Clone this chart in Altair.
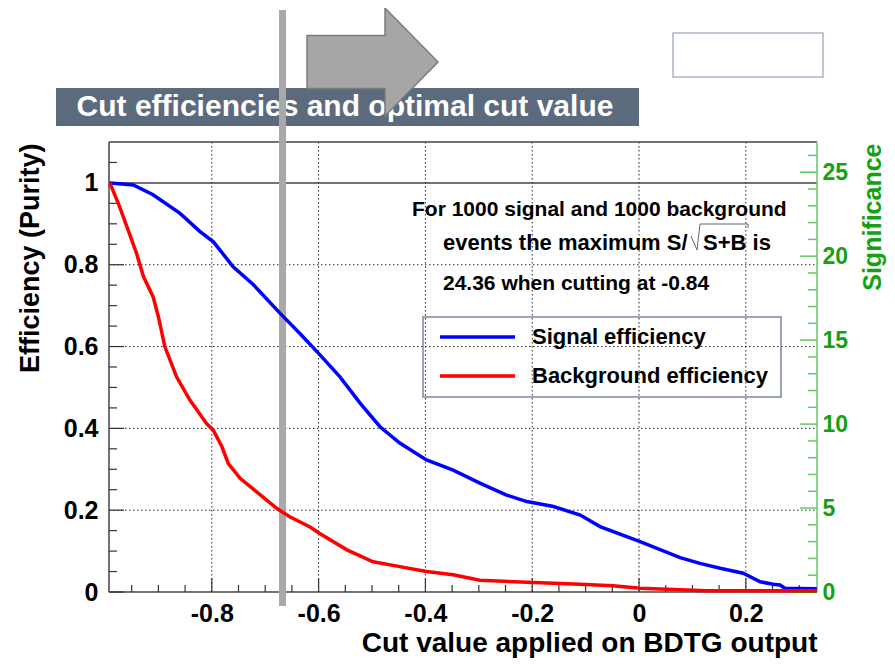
import altair as alt
import pandas as pd

# ---------------- data ----------------
series_names = ["Signal efficiency", "Background efficiency"]
series_colors = ["#0000ff", "#ff0000"]

signal_x = [-0.991, -0.947, -0.910, -0.860, -0.822, -0.797, -0.760, -0.722, -0.672, -0.635,
            -0.597, -0.560, -0.522, -0.485, -0.448, -0.398, -0.348, -0.298, -0.248, -0.210,
            -0.160, -0.110, -0.073, 0.002, 0.077, 0.114, 0.152, 0.195, 0.227, 0.251,
            0.264, 0.273, 0.333]
signal_y = [1.0, 0.995, 0.971, 0.926, 0.881, 0.856, 0.795, 0.751, 0.681, 0.632,
            0.579, 0.526, 0.461, 0.404, 0.364, 0.323, 0.298, 0.266, 0.237, 0.221,
            0.209, 0.188, 0.160, 0.123, 0.084, 0.070, 0.058, 0.046, 0.025, 0.019,
            0.017, 0.009, 0.008]

background_x = [-0.991, -0.975, -0.959, -0.941, -0.928, -0.910, -0.900, -0.888, -0.866, -0.841,
                -0.810, -0.797, -0.781, -0.769, -0.747, -0.716, -0.678, -0.654, -0.616, -0.598,
                -0.547, -0.498, -0.448, -0.398, -0.348, -0.298, -0.198, -0.110, -0.049, 0.002,
                0.127, 0.333]
background_y = [1.0, 0.95, 0.893, 0.828, 0.771, 0.722, 0.673, 0.600, 0.526, 0.469,
                0.412, 0.395, 0.355, 0.314, 0.278, 0.245, 0.204, 0.184, 0.159, 0.143,
                0.103, 0.074, 0.062, 0.050, 0.042, 0.029, 0.023, 0.019, 0.015, 0.009,
                0.003, 0.003]

significance_x = [0.29, 0.333]
significance_y = [0.0, 0.0]

x_major = [-0.8, -0.6, -0.4, -0.2, 0.0, 0.2]
x_minor = [-0.95, -0.9, -0.85, -0.75, -0.7, -0.65, -0.55, -0.5, -0.45, -0.35, -0.3, -0.25,
           -0.15, -0.1, -0.05, 0.05, 0.1, 0.15, 0.25, 0.3]
y_major = [0.0, 0.2, 0.4, 0.6, 0.8, 1.0]
y_grid = [0.2, 0.4, 0.6, 0.8]
y_minor = [0.05, 0.1, 0.15, 0.25, 0.3, 0.35, 0.45, 0.5, 0.55, 0.65, 0.7, 0.75, 0.85, 0.9,
           0.95, 1.05]
y_solid = [0.0, 1.0, 1.1]
sig_major = [0, 5, 10, 15, 20, 25]
sig_minor = [1, 2, 3, 4, 6, 7, 8, 9, 11, 12, 13, 14, 16, 17, 18, 19, 21, 22, 23, 24, 26]

title_text = "Cut efficiencies and optimal cut value"
x_title = "Cut value applied on BDTG output"
y_title = "Efficiency (Purity)"
sig_title = "Significance"
note_line1 = "For 1000 signal and 1000 background"
note_line2a = "events the maximum S/"
note_line2b = "S+B is"
note_line3 = "24.36 when cutting at -0.84"

X_DOMAIN = [-0.9925, 0.3333]
Y_DOMAIN = [0.0, 1.1]
SIG_DOMAIN = [0.0, 26.8]

W, H = 708, 450
FONT = "Liberation Sans"
GREEN = "#12a212"
GREEN_LINE = "#66c866"

# ---------------- helpers ----------------
def xs():
    return alt.Scale(domain=X_DOMAIN, nice=False, zero=False)

def ys():
    return alt.Scale(domain=Y_DOMAIN, nice=False, zero=False)

def ss():
    return alt.Scale(domain=SIG_DOMAIN, nice=False, zero=False)

one = alt.Data(values=[{"a": 1}])

def vals(v):
    return pd.DataFrame({"v": v})

curves = pd.concat([
    pd.DataFrame({"series": series_names[0], "x": signal_x, "y": signal_y, "i": range(len(signal_x))}),
    pd.DataFrame({"series": series_names[1], "x": background_x, "y": background_y, "i": range(len(background_x))}),
])
sig_df = pd.DataFrame({"x": significance_x, "y": significance_y})

# ---------------- decorations above the plot ----------------
title_bar = alt.Chart(one).mark_rect(color="#5c6a7e").encode(
    x=alt.value(-53), x2=alt.value(530), y=alt.value(-54), y2=alt.value(-16))
title_lbl = alt.Chart(one).mark_text(
    text=title_text, font=FONT, fontSize=30, fontWeight="bold", color="white",
    align="center", baseline="middle").encode(x=alt.value(236), y=alt.value(-35))
arrow_path = ("M -1 -0.405 L 0.191 -0.405 L 0.191 -0.824 L 1 0 L 0.191 0.824 "
              "L 0.191 0.405 L -1 0.405 Z")
arrow = alt.Chart(one).mark_point(
    shape=arrow_path, size=17161, filled=True, fill="#a6a6a6", stroke="#7c7c7c",
    strokeWidth=1.5, opacity=1).encode(x=alt.value(263.5), y=alt.value(-80))
top_box = alt.Chart(one).mark_rect(fill="white", stroke="#a9b4c7", strokeWidth=1.5).encode(
    x=alt.value(564), x2=alt.value(714), y=alt.value(-109), y2=alt.value(-65))
grey_bar = alt.Chart(one).mark_rect(color="#a9a9a9").encode(
    x=alt.value(170), x2=alt.value(177), y=alt.value(-132), y2=alt.value(464))

# ---------------- x axis carrier (labels + title) ----------------
x_axis_layer = alt.Chart(vals(x_major)).mark_rule(opacity=0).encode(
    x=alt.X("v:Q", scale=xs(), axis=alt.Axis(
        orient="bottom", values=x_major, labelExpr="'' + datum.value", ticks=False,
        tickSize=0, domain=False, grid=False, labelFont=FONT, labelFontSize=25,
        labelFontWeight="bold", labelColor="black", labelPadding=9, labelOverlap=False,
        labelFlush=False, title=x_title, titleFont=FONT, titleFontSize=28,
        titleFontWeight="bold", titleColor="black", titleAlign="right",
        titleBaseline="alphabetic", titleX=W, titleY=59)),
    y=alt.value(0), y2=alt.value(1))

# ---------------- frame, grid, ticks ----------------
dots = dict(strokeDash=[1.5, 2.5], color="#222222", strokeWidth=1)
grid_v = alt.Chart(vals(x_major)).mark_rule(**dots).encode(
    x=alt.X("v:Q", scale=xs(), axis=None), y=alt.value(0), y2=alt.value(H))
grid_h = alt.Chart(vals(y_grid)).mark_rule(**dots).encode(
    y=alt.Y("v:Q", scale=ys(), axis=None), x=alt.value(0), x2=alt.value(W))
solid_h = alt.Chart(vals(y_solid)).mark_rule(color="#444444", strokeWidth=1.5).encode(
    y=alt.Y("v:Q", scale=ys(), axis=None), x=alt.value(0), x2=alt.value(W))
left_line = alt.Chart(one).mark_rule(color="#444444", strokeWidth=1.5).encode(
    x=alt.value(0), y=alt.value(0), y2=alt.value(H))
xt_major = alt.Chart(vals(x_major)).mark_rule(color="#333333", strokeWidth=1.2).encode(
    x=alt.X("v:Q", scale=xs(), axis=None), y=alt.value(H), y2=alt.value(H - 14))
xt_minor = alt.Chart(vals(x_minor)).mark_rule(color="#333333", strokeWidth=1.2).encode(
    x=alt.X("v:Q", scale=xs(), axis=None), y=alt.value(H), y2=alt.value(H - 7))
yt_major = alt.Chart(vals(y_major)).mark_rule(color="#333333", strokeWidth=1.2).encode(
    y=alt.Y("v:Q", scale=ys(), axis=None), x=alt.value(0), x2=alt.value(15))
yt_minor = alt.Chart(vals(y_minor)).mark_rule(color="#333333", strokeWidth=1.2).encode(
    y=alt.Y("v:Q", scale=ys(), axis=None), x=alt.value(0), x2=alt.value(8))

# ---------------- right (significance) axis ----------------
right_line = alt.Chart(one).mark_rule(color=GREEN_LINE, strokeWidth=1.5).encode(
    x=alt.value(W), y=alt.value(0), y2=alt.value(H))
st_major = alt.Chart(vals(sig_major)).mark_rule(color=GREEN_LINE, strokeWidth=1.5).encode(
    y=alt.Y("v:Q", scale=ss(), axis=alt.Axis(
        orient="right", values=sig_major, labelExpr="'' + datum.value",
        ticks=False, tickSize=0, domain=False, grid=False,
        labelFont=FONT, labelFontSize=23, labelFontWeight="bold", labelColor=GREEN,
        labelPadding=5, labelOverlap=False, labelFlush=False,
        title=sig_title, titleFont=FONT, titleFontSize=25, titleFontWeight="bold",
        titleColor=GREEN, titleAngle=270, titleAlign="right", titleBaseline="middle",
        titleX=55, titleY=1)),
    x=alt.value(W), x2=alt.value(W - 17))
st_minor = alt.Chart(vals(sig_minor)).mark_rule(color=GREEN_LINE, strokeWidth=1.5).encode(
    y=alt.Y("v:Q", scale=ss(), axis=None), x=alt.value(W), x2=alt.value(W - 9))
sig_line = alt.Chart(sig_df).mark_line(color="#00aa00", strokeWidth=2).encode(
    x=alt.X("x:Q", scale=xs(), axis=None), y=alt.Y("y:Q", scale=ss(), axis=None))

# ---------------- curves ----------------
curve_layer = alt.Chart(curves).mark_line(strokeWidth=3.5).encode(
    x=alt.X("x:Q", scale=xs(), axis=None),
    y=alt.Y("y:Q", scale=ys(), axis=alt.Axis(
        values=y_major, labelExpr="'' + datum.value", ticks=False, tickSize=0,
        domain=False, grid=False, labelFont=FONT, labelFontSize=25, labelFontWeight="bold",
        labelColor="black", labelPadding=11, labelOverlap=False, labelFlush=False,
        title=y_title, titleFont=FONT, titleFontSize=27, titleFontWeight="bold",
        titleColor="black", titleAngle=270, titleAlign="right", titleBaseline="middle",
        titleX=-79, titleY=1)),
    color=alt.Color("series:N", scale=alt.Scale(domain=series_names, range=series_colors),
                    legend=None),
    order=alt.Order("i:Q"),
)

# ---------------- legend box (drawn by hand) ----------------
legend_layers = [
    alt.Chart(one).mark_rect(fill="white", fillOpacity=0, stroke="#7b879c", strokeWidth=1.5).encode(
        x=alt.value(314), x2=alt.value(672), y=alt.value(175), y2=alt.value(255))
]
for name, col, ypix in zip(series_names, series_colors, [195, 234]):
    legend_layers.append(alt.Chart(one).mark_rule(color=col, strokeWidth=3.5).encode(
        x=alt.value(331), x2=alt.value(406), y=alt.value(ypix)))
    legend_layers.append(alt.Chart(alt.Data(values=[{"label": name}])).mark_text(
        font=FONT, fontSize=22, fontWeight="bold", color="black", align="left",
        baseline="middle").encode(text="label:N", x=alt.value(423), y=alt.value(ypix)))

# ---------------- annotation ----------------
def note(txt, xp, yp, size):
    return alt.Chart(alt.Data(values=[{"t": txt}])).mark_text(
        font=FONT, fontSize=size, fontWeight="bold", color="black", align="left",
        baseline="alphabetic").encode(text="t:N", x=alt.value(xp), y=alt.value(yp))

note_layers = [
    note(note_line1, 303, 74, 21),
    note(note_line2a, 334, 108, 22),
    note(note_line2b, 594, 108, 22),
    note(note_line3, 334, 148, 21),
]
# radical sign drawn as thin strokes
for (x1, y1, x2, y2) in [(582, 94, 588, 108), (588, 108, 591, 82), (591, 82, 639, 82),
                         (639, 82, 639, 86)]:
    note_layers.append(alt.Chart(one).mark_rule(color="#666666", strokeWidth=1).encode(
        x=alt.value(x1), y=alt.value(y1), x2=alt.value(x2), y2=alt.value(y2)))

chart = alt.layer(
    title_bar, title_lbl, arrow, top_box, x_axis_layer,
    grid_v, grid_h, solid_h, left_line, xt_major, xt_minor, yt_major, yt_minor,
    right_line, st_major, st_minor, grey_bar, sig_line, curve_layer,
    *legend_layers, *note_layers,
).resolve_scale(x="independent", y="independent").properties(
    width=W, height=H,
    autosize=alt.AutoSizeParams(type="none"),
    padding={"left": 101, "top": 134, "right": 70, "bottom": 66},
    background="white",
).configure_view(strokeWidth=0)

chart.save("out.html", embed_options={"renderer": "svg", "actions": False})
